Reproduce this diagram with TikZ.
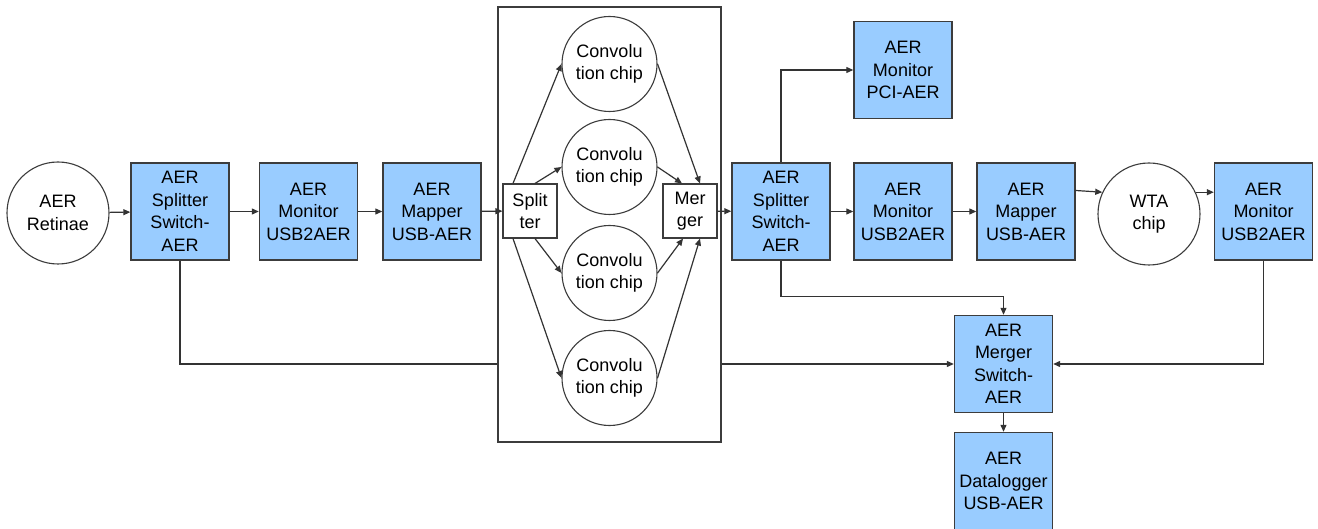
\documentclass[tikz,border=0pt]{standalone}
\usepackage{fontspec}
\setmainfont{Liberation Sans}
\usetikzlibrary{arrows.meta,positioning}
\definecolor{aerBlue}{RGB}{153,204,255}
\definecolor{edgeGray}{RGB}{60,60,60}

\tikzset{
    aerbox/.style={draw=edgeGray, fill=aerBlue, line width=1.4pt, minimum width=98, minimum height=97, inner sep=1pt, align=center},
    chip/.style={circle, draw=edgeGray, fill=white, line width=1.1pt, minimum size=95, inner sep=0pt, align=center},
    smallbox/.style={draw=edgeGray, fill=white, line width=1.1pt, minimum width=54, minimum height=54, inner sep=0pt, align=center},
    conn/.style={draw=black!80, line width=1.2pt, -{Triangle[length=7pt,width=6pt]}},
    every node/.style={font=\fontsize{18}{22.5}\selectfont}
}

\begin{document}
\begin{tikzpicture}[x=1pt,y=-1pt]
        \useasboundingbox (0,0) rectangle (1318,529);

        % input side
        \node[chip, minimum size=102] (retina) at (58,213) {AER\\Retinae};
        \node[aerbox] (splitA) at (180,211.5) {AER\\Splitter\\Switch-\\AER};
        \node[aerbox] (monitorA) at (308.5,211.5) {AER\\Monitor\\USB2AER};
        \node[aerbox] (mapperA) at (432,211.5) {AER\\Mapper\\USB-AER};

        % output side
        \node[aerbox] (splitB) at (781,211.5) {AER\\Splitter\\Switch-\\AER};
        \node[aerbox] (monitorPCI) at (903,70) {AER\\Monitor\\PCI-AER};
        \node[aerbox] (monitorB) at (903,211.5) {AER\\Monitor\\USB2AER};
        \node[aerbox] (mapperB) at (1026,211.5) {AER\\Mapper\\USB-AER};
        \node[chip, minimum size=102] (wta) at (1149,214) {WTA\\chip};
        \node[aerbox] (monitorC) at (1263.5,211.5) {AER\\Monitor\\USB2AER};
        \node[aerbox] (mergeSw) at (1003.5,364) {AER\\Merger\\Switch-\\AER};
        \node[aerbox] (logger) at (1003.5,481) {AER\\Datalogger\\USB-AER};

        % bypass runs behind the board
        \draw[conn] (splitA.south) |- (mergeSw.west);

        % convolution board
        \node[draw=edgeGray, fill=white, line width=1.2pt, minimum width=223, minimum height=435, inner sep=0pt] (board) at (609.5,224.5) {};
        \node[smallbox] (splitter) at (530,211) {Split\\ter};
        \node[smallbox] (merger) at (690,211) {Mer\\ger};
        \node[chip] (convA) at (609.5,64) {Convolu\\tion chip};
        \node[chip] (convB) at (609.5,167) {Convolu\\tion chip};
        \node[chip] (convC) at (609.5,273) {Convolu\\tion chip};
        \node[chip] (convD) at (609.5,378) {Convolu\\tion chip};

        % main chain
        \draw[conn] (retina) -- (splitA);
        \draw[conn] (splitA) -- (monitorA);
        \draw[conn] (monitorA) -- (mapperA);
        \draw[conn] (mapperA) -- (splitter);
        \draw[conn] (merger) -- (splitB);
        \draw[conn] (splitB) -- (monitorB);
        \draw[conn] (monitorB) -- (mapperB);
        \draw[conn] ([yshift=21]mapperB.east) -- (wta.155);
        \draw[conn] (wta.25) -- (wta.25 -| monitorC.west);

        % fan out / fan in
        \draw[conn] ([xshift=-17]splitter.north) -- (convA.west);
        \draw[conn] ([xshift=5]splitter.north) -- (convB.west);
        \draw[conn] ([xshift=5]splitter.south) -- (convC.west);
        \draw[conn] ([xshift=-17]splitter.south) -- (convD.west);
        \draw[conn] (convA.east) -- ([xshift=10]merger.north);
        \draw[conn] (convB.east) -- ([xshift=-8]merger.north);
        \draw[conn] (convC.east) -- ([xshift=-7]merger.south);
        \draw[conn] (convD.east) -- ([xshift=10]merger.south);

        % taps to monitors and merger
        \draw[conn] (splitB.north) |- (monitorPCI.west);
        \draw[conn] (splitB.south) -- ++(0,36) -| (mergeSw.north);
        \draw[conn] (monitorC.south) |- (mergeSw.east);
        \draw[conn] (mergeSw) -- (logger);
\end{tikzpicture}
\end{document}
